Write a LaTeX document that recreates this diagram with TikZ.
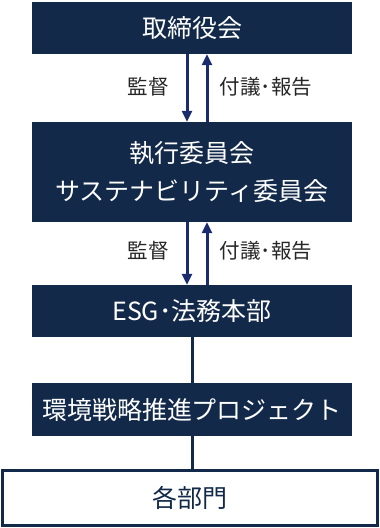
\documentclass[tikz,border=0pt]{standalone}
\usepackage{fontspec}
\setmainfont{Noto Sans CJK JP}
\usetikzlibrary{arrows.meta}
\definecolor{navy}{HTML}{12294A}
\definecolor{arrowblue}{HTML}{1B2C6E}
\tikzset{
  darkbox/.style={rectangle, fill=navy, text=white, minimum width=320pt, inner sep=0pt, font=\fontsize{25}{38}\selectfont, align=center},
  lightbox/.style={rectangle, draw=navy, line width=2.4pt, fill=white, text=navy, minimum width=375pt, minimum height=55pt, inner sep=0pt, font=\fontsize{25}{30}\selectfont},
  arr/.style={draw=arrowblue, line width=3pt, -{Triangle[width=10pt,length=11pt]}},
  conn/.style={draw=navy, line width=3pt},
  lbl/.style={text=black!85, font=\fontsize{20.5}{24}\selectfont, inner sep=0pt}
}
\begin{document}
\begin{tikzpicture}[x=1pt,y=-1pt]
\useasboundingbox (0,0) rectangle (380,528);
\node[darkbox, minimum height=52pt] (b1) at (192,28) {取締役会};
\node[darkbox, minimum height=100pt] (b2) at (192,172) {執行委員会\\サステナビリティ委員会};
\node[darkbox, minimum height=52pt] (b3) at (192,311) {ESG･法務本部};
\node[darkbox, minimum height=53pt] (b4) at (192,409.5) {環境戦略推進プロジェクト};
\node[lightbox] (b5) at (190,498) {各部門};
\draw[arr] ([xshift=-5pt]b1.south) -- ([xshift=-5pt]b2.north);
\draw[arr] ([xshift=15pt]b2.north) -- ([xshift=15pt]b1.south);
\draw[arr] ([xshift=-5pt]b2.south) -- ([xshift=-5pt]b3.north);
\draw[arr] ([xshift=15pt]b3.north) -- ([xshift=15pt]b2.south);
\draw[conn] (b3.south) -- (b4.north);
\draw[conn] (b4.south) -- (b4.south |- b5.north);
\node[lbl] (l1) at (148,87) {監督};
\node[lbl] (l2) at (266,87) {付議･報告};
\node[lbl] (l3) at (148,251) {監督};
\node[lbl] (l4) at (266,251) {付議･報告};
\end{tikzpicture}
\end{document}
